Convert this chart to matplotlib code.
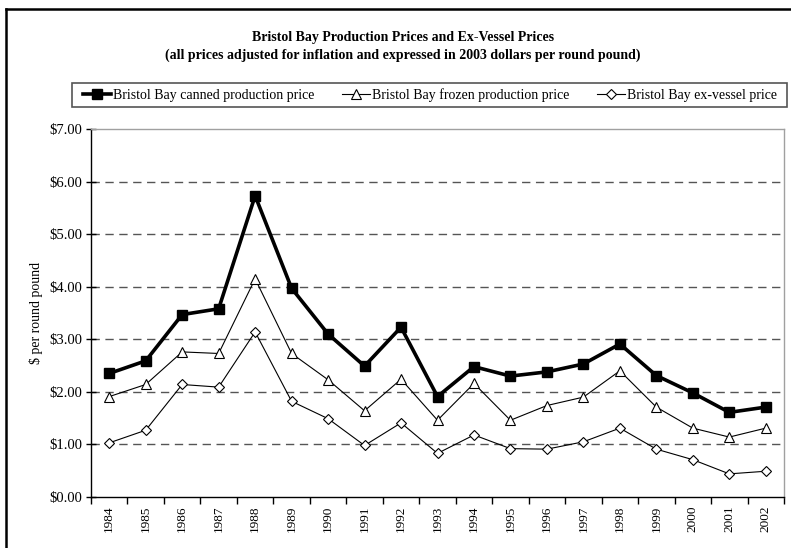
import numpy as np
import matplotlib.pyplot as plt
from matplotlib.lines import Line2D
from matplotlib.patches import Rectangle

plt.rcParams['font.family'] = ['Liberation Serif', 'DejaVu Serif']

years = [str(y) for y in range(1984, 2003)]
canned = [2.35, 2.59, 3.47, 3.58, 5.73, 3.97, 3.10, 2.49, 3.23, 1.91,
          2.48, 2.30, 2.38, 2.53, 2.91, 2.31, 1.98, 1.61, 1.71]
frozen = [1.91, 2.14, 2.76, 2.73, 4.15, 2.73, 2.23, 1.64, 2.24, 1.46,
          2.16, 1.46, 1.74, 1.90, 2.40, 1.71, 1.31, 1.14, 1.31]
exvessel = [1.03, 1.27, 2.14, 2.09, 3.14, 1.82, 1.49, 0.98, 1.41, 0.83,
            1.18, 0.92, 0.91, 1.05, 1.31, 0.91, 0.71, 0.44, 0.49]
yticks = [0, 1, 2, 3, 4, 5, 6, 7]

W, H = 791, 548
fig = plt.figure(figsize=(W / 100, H / 100), dpi=100)
ax = fig.add_axes([91 / W, 1 - 497 / H, (784 - 91) / W, (497 - 129) / H])

x = np.arange(len(years))
ax.plot(x, canned, color='black', lw=2.6, marker='s', ms=6.5,
        label='Bristol Bay canned production price', zorder=5)
ax.plot(x, frozen, color='black', lw=0.8, marker='^', ms=7, mfc='white',
        mew=0.8, label='Bristol Bay frozen production price', zorder=4)
ax.plot(x, exvessel, color='black', lw=0.8, marker='D', ms=5, mfc='white',
        mew=0.8, label='Bristol Bay ex-vessel price', zorder=4)

ax.set_xlim(-0.5, len(years) - 0.5)
ax.set_ylim(0, 7)

# category labels in the middle, tick marks on the boundaries
ax.set_xticks(x)
ax.set_xticklabels(years, rotation=90, fontsize=9.5)
ax.set_xticks(np.arange(-0.5, len(years)), minor=True)
ax.tick_params(axis='x', which='major', length=0, pad=6)
ax.tick_params(axis='x', which='minor', length=5, direction='out', width=1)

ax.set_yticks(yticks)
ax.set_yticklabels(['${:.2f}'.format(v) for v in yticks], fontsize=10.5)
ax.tick_params(axis='y', length=7, direction='inout', width=1, pad=3)

for v in yticks[1:-1]:
    ax.axhline(v, color='#555555', lw=1, dashes=(6, 4), zorder=1)

for side in ['top', 'right']:
    ax.spines[side].set_color('#a0a0a0')
    ax.spines[side].set_linewidth(1)
for side in ['left', 'bottom']:
    ax.spines[side].set_color('black')
    ax.spines[side].set_linewidth(1)

ax.set_ylabel('$ per round pound', fontsize=10)
ax.yaxis.set_label_coords((43 - 91) / 693, 0.5)

fig.text(403 / W, 1 - 38 / H, 'Bristol Bay Production Prices and Ex-Vessel Prices',
         ha='center', va='center', fontsize=10, fontweight='bold')
fig.text(403 / W, 1 - 55 / H,
         '(all prices adjusted for inflation and expressed in 2003 dollars per round pound)',
         ha='center', va='center', fontsize=10, fontweight='bold')

# legend entries without frame, box drawn separately
fig.legend(loc='center', bbox_to_anchor=(430 / W, 1 - 95 / H), ncol=3,
           fontsize=10, frameon=False, handlelength=2.0, handletextpad=0.15,
           borderaxespad=0, borderpad=0, columnspacing=2.0)
fig.add_artist(Rectangle((72 / W, 1 - 107 / H), 715 / W, 24 / H, fill=False,
                         edgecolor='#555555', lw=1.2, transform=fig.transFigure))

# outer chart frame (left and top edges visible)
fig.add_artist(Line2D([6 / W, 6 / W], [0, 1 - 9 / H], color='black', lw=1.8,
                      transform=fig.transFigure))
fig.add_artist(Line2D([6 / W, 1], [1 - 9 / H, 1 - 9 / H], color='black', lw=1.8,
                      transform=fig.transFigure))

fig.savefig('out.png', dpi=100)
